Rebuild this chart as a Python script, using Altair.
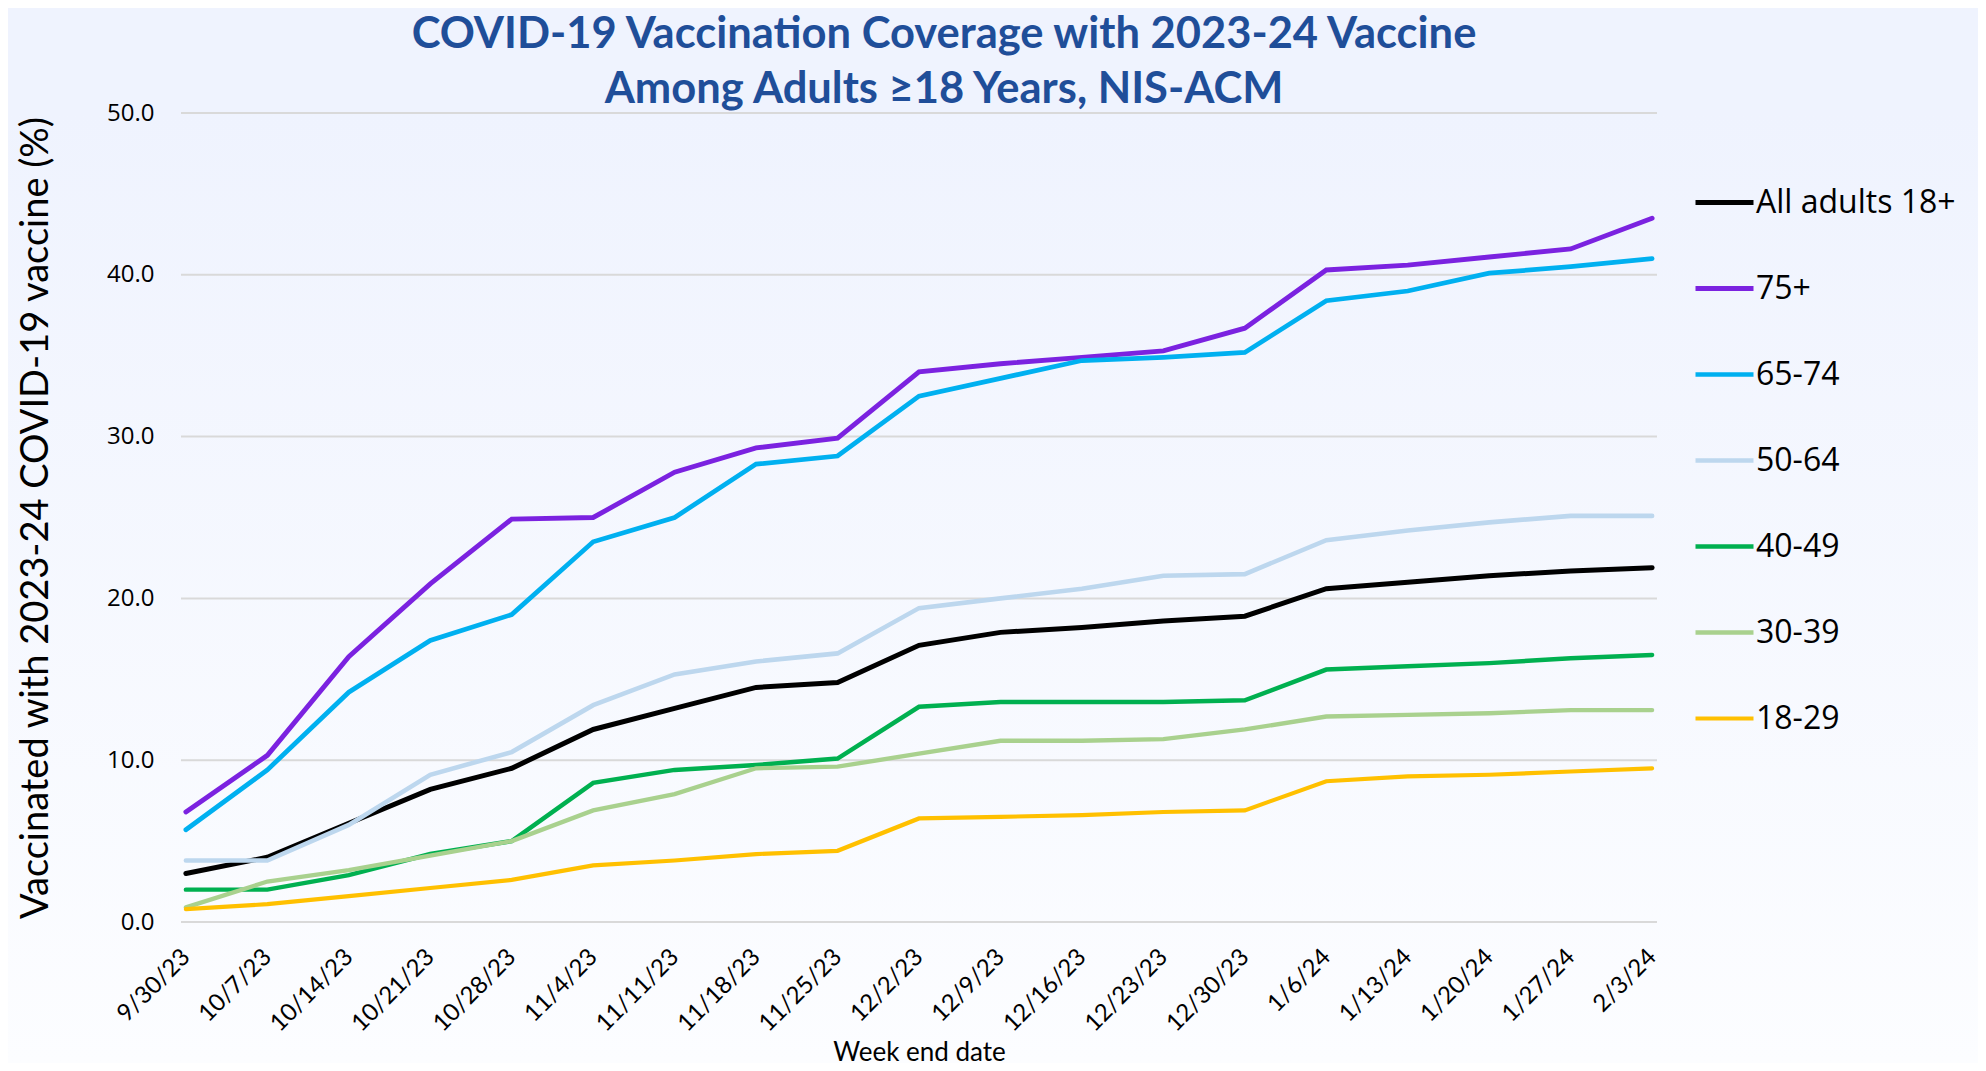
import altair as alt
import pandas as pd

dates = ["9/30/23", "10/7/23", "10/14/23", "10/21/23", "10/28/23", "11/4/23", "11/11/23",
         "11/18/23", "11/25/23", "12/2/23", "12/9/23", "12/16/23", "12/23/23", "12/30/23",
         "1/6/24", "1/13/24", "1/20/24", "1/27/24", "2/3/24"]

series_names = ["All adults 18+", "75+", "65-74", "50-64", "40-49", "30-39", "18-29"]
series_colors = ["#000000", "#7B22E0", "#00B0F0", "#BDD7EE", "#00B050", "#A9D18E", "#FFC000"]

all_adults = [3.0, 4.0, 6.1, 8.2, 9.5, 11.9, 13.2, 14.5, 14.8, 17.1, 17.9, 18.2, 18.6, 18.9, 20.6, 21.0, 21.4, 21.7, 21.9]
age_75 = [6.8, 10.3, 16.4, 20.9, 24.9, 25.0, 27.8, 29.3, 29.9, 34.0, 34.5, 34.9, 35.3, 36.7, 40.3, 40.6, 41.1, 41.6, 43.5]
age_65_74 = [5.7, 9.4, 14.2, 17.4, 19.0, 23.5, 25.0, 28.3, 28.8, 32.5, 33.6, 34.7, 34.9, 35.2, 38.4, 39.0, 40.1, 40.5, 41.0]
age_50_64 = [3.8, 3.8, 6.0, 9.1, 10.5, 13.4, 15.3, 16.1, 16.6, 19.4, 20.0, 20.6, 21.4, 21.5, 23.6, 24.2, 24.7, 25.1, 25.1]
age_40_49 = [2.0, 2.0, 2.9, 4.2, 5.0, 8.6, 9.4, 9.7, 10.1, 13.3, 13.6, 13.6, 13.6, 13.7, 15.6, 15.8, 16.0, 16.3, 16.5]
age_30_39 = [0.9, 2.5, 3.2, 4.1, 5.0, 6.9, 7.9, 9.5, 9.6, 10.4, 11.2, 11.2, 11.3, 11.9, 12.7, 12.8, 12.9, 13.1, 13.1]
age_18_29 = [0.8, 1.1, 1.6, 2.1, 2.6, 3.5, 3.8, 4.2, 4.4, 6.4, 6.5, 6.6, 6.8, 6.9, 8.7, 9.0, 9.1, 9.3, 9.5]

y_ticks = [0, 10, 20, 30, 40, 50]

series_values = [all_adults, age_75, age_65_74, age_50_64, age_40_49, age_30_39, age_18_29]
rows = []
for name, vals in zip(series_names, series_values):
    for d, v in zip(dates, vals):
        rows.append({"date": d, "series": name, "value": v, "order": series_names.index(name)})
df = pd.DataFrame(rows)

CAL = "Lato, Carlito, Calibri, sans-serif"
W, H = 1476, 809
PAD = {"left": 173, "top": 105, "right": 321, "bottom": 141}

y_enc = alt.Y("value:Q", scale=alt.Scale(domain=[0, 50], nice=False),
              axis=alt.Axis(title="Vaccinated with 2023-24 COVID-19 vaccine (%)", values=y_ticks,
                            format=".1f", ticks=False, domain=False, grid=False, zindex=1,
                            labelFont="Open Sans", labelFontSize=24, labelColor="#000000",
                            labelPadding=27,
                            titleFont=CAL, titleFontSize=38, titleFontWeight="normal",
                            titleColor="#000000", titlePadding=51))

# soft vertical gradient behind the plot (decoration only)
backdrop = alt.Chart(pd.DataFrame({"k": [0]})).mark_rect(
    fill=alt.Gradient(gradient="linear", x1=0, x2=0, y1=0, y2=1,
                      stops=[alt.GradientStop(offset=0, color="#EFF3FE"),
                             alt.GradientStop(offset=1, color="#FCFDFF")]),
    strokeWidth=0,
).encode(
    x=alt.value(-PAD["left"]), x2=alt.value(W + PAD["right"]),
    y=alt.value(0), y2=alt.value(H + PAD["bottom"]),
)

grid = alt.Chart(pd.DataFrame({"value": y_ticks})).mark_rule(
    color="#D9D9D9", strokeWidth=2
).encode(y=y_enc)

lines = alt.Chart(df).mark_line(strokeCap="round", strokeJoin="miter").encode(
    x=alt.X("date:N", sort=dates,
            scale=alt.Scale(type="point", padding=0.06),
            axis=alt.Axis(title="Week end date", labelAngle=-45, labelAlign="right",
                          labelBaseline="middle", labelPadding=31, ticks=False, domain=False,
                          grid=False, zindex=1, labelFont=CAL, labelFontSize=24,
                          labelColor="#000000",
                          titleFont=CAL, titleFontSize=26, titleFontWeight="normal",
                          titleColor="#000000", titlePadding=4)),
    y=y_enc,
    color=alt.Color("series:N", sort=series_names,
                    scale=alt.Scale(domain=series_names, range=series_colors),
                    legend=alt.Legend(orient="none", legendX=1512, legendY=58, title=None,
                                      symbolType="stroke", symbolSize=3364,
                                      symbolStrokeWidth=4.5, labelFont="Open Sans",
                                      labelFontSize=32, labelColor="#000000", labelLimit=500,
                                      labelOffset=0, rowPadding=38)),
    strokeWidth=alt.StrokeWidth("series:N",
                                scale=alt.Scale(domain=series_names,
                                                range=[5, 4.2, 4.2, 4.2, 4.2, 4.2, 4.2]),
                                legend=None),
    order=alt.Order("order:Q", sort="descending"),
)

chart = alt.layer(backdrop, grid, lines).properties(
    width=W,
    height=H,
    title=alt.TitleParams(
        text=["COVID-19 Vaccination Coverage with 2023-24 Vaccine",
              "Among Adults ≥18 Years, NIS-ACM"],
        font=CAL,
        fontSize=43.5, fontWeight="bold", color="#1F4E99",
        anchor="middle", frame="group", lineHeight=55, offset=-11, dx=25),
    padding=PAD,
    autosize=alt.AutoSizeParams(type="none"),
    background="#EFF3FE",
).configure_view(stroke=None)

chart.save("out.html", embed_options={"renderer": "svg", "actions": False})
